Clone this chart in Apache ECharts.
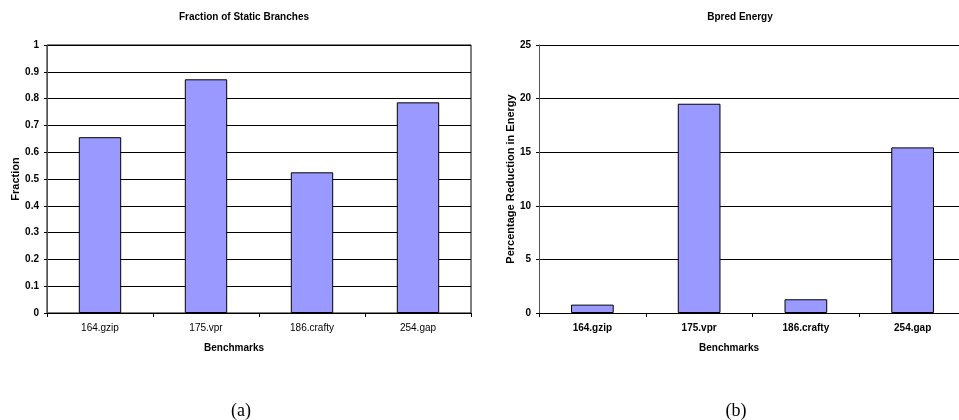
<!DOCTYPE html>
<html>
<head>
<meta charset="utf-8">
<script src="https://cdn.jsdelivr.net/npm/echarts@6/dist/echarts.min.js"></script>
<style>
html,body{margin:0;padding:0;background:#fff;}
#c{width:959px;height:420px;}
</style>
</head>
<body>
<div id="c"></div>
<script>
const categories = ['164.gzip', '175.vpr', '186.crafty', '254.gap'];
const staticFraction = [0.656, 0.872, 0.525, 0.786];
const bpredEnergy = [0.78, 19.52, 1.28, 15.45];
const fractionTicks = { min: 0, max: 1, interval: 0.1 };
const energyTicks = { min: 0, max: 25, interval: 5 };

const chart = echarts.init(document.getElementById('c'), null, { renderer: 'canvas' });
const font = 'Liberation Sans, Arial, sans-serif';
const serif = 'Liberation Serif, Times New Roman, serif';
const barColor = '#9999FF';

function xAxis(gridIndex, boldLabels, shift) {
  return {
    type: 'category', gridIndex: gridIndex, data: categories,
    name: 'Benchmarks', nameLocation: 'middle', nameGap: 30,
    nameTextStyle: { fontFamily: font, fontSize: 10, fontWeight: 'bold', color: '#000', padding: [0, shift, 0, 0] },
    axisLine: { lineStyle: { color: '#000', width: 1 } },
    axisTick: { show: true, length: 4, lineStyle: { color: '#000' } },
    axisLabel: { fontFamily: font, fontSize: 10, fontWeight: boldLabels ? 'bold' : 'normal', color: '#000', margin: 10 },
    splitLine: { show: false }
  };
}
function yAxis(gridIndex, ticks, name, gap) {
  return {
    type: 'value', gridIndex: gridIndex, min: ticks.min, max: ticks.max, interval: ticks.interval,
    name: name, nameLocation: 'middle', nameGap: gap, nameRotate: 90,
    nameTextStyle: { fontFamily: font, fontSize: 11, fontWeight: 'bold', color: '#000' },
    axisLine: { show: true, lineStyle: { color: '#555', width: 1 } },
    axisTick: { show: true, length: 3, lineStyle: { color: '#000' } },
    axisLabel: { fontFamily: font, fontSize: 10, fontWeight: 'bold', color: '#000', margin: 8 },
    splitLine: { show: true, lineStyle: { color: '#000', width: 1 } }
  };
}

chart.setOption({
  animation: false,
  backgroundColor: '#fff',
  title: [
    { text: 'Fraction of Static Branches', left: 239, top: 7, textAlign: 'center',
      textStyle: { fontFamily: font, fontSize: 10, fontWeight: 'bold', color: '#000' } },
    { text: 'Bpred Energy', left: 735, top: 7, textAlign: 'center',
      textStyle: { fontFamily: font, fontSize: 10, fontWeight: 'bold', color: '#000' } },
    { text: '(a)', left: 236, top: 397, textAlign: 'center',
      textStyle: { fontFamily: serif, fontSize: 18, fontWeight: 'normal', color: '#000' } },
    { text: '(b)', left: 731, top: 397, textAlign: 'center',
      textStyle: { fontFamily: serif, fontSize: 18, fontWeight: 'normal', color: '#000' } }
  ],
  grid: [
    { left: 47, right: 488, top: 45, bottom: 107, show: true, borderColor: '#000', borderWidth: 1,
      backgroundColor: 'transparent', outerBoundsMode: 'none', containLabel: false },
    { left: 539, width: 427, top: 45, bottom: 107, outerBoundsMode: 'none', containLabel: false }
  ],
  xAxis: [xAxis(0, false, 50), xAxis(1, true, 47)],
  yAxis: [yAxis(0, fractionTicks, 'Fraction', 26), yAxis(1, energyTicks, 'Percentage Reduction in Energy', 21)],
  series: [
    { type: 'bar', xAxisIndex: 0, yAxisIndex: 0, data: staticFraction, barWidth: '40%',
      itemStyle: { color: barColor, borderColor: '#000', borderWidth: 1 } },
    { type: 'bar', xAxisIndex: 1, yAxisIndex: 1, data: bpredEnergy, barWidth: '40%',
      itemStyle: { color: barColor, borderColor: '#000', borderWidth: 1 } }
  ]
});
</script>
</body>
</html>
